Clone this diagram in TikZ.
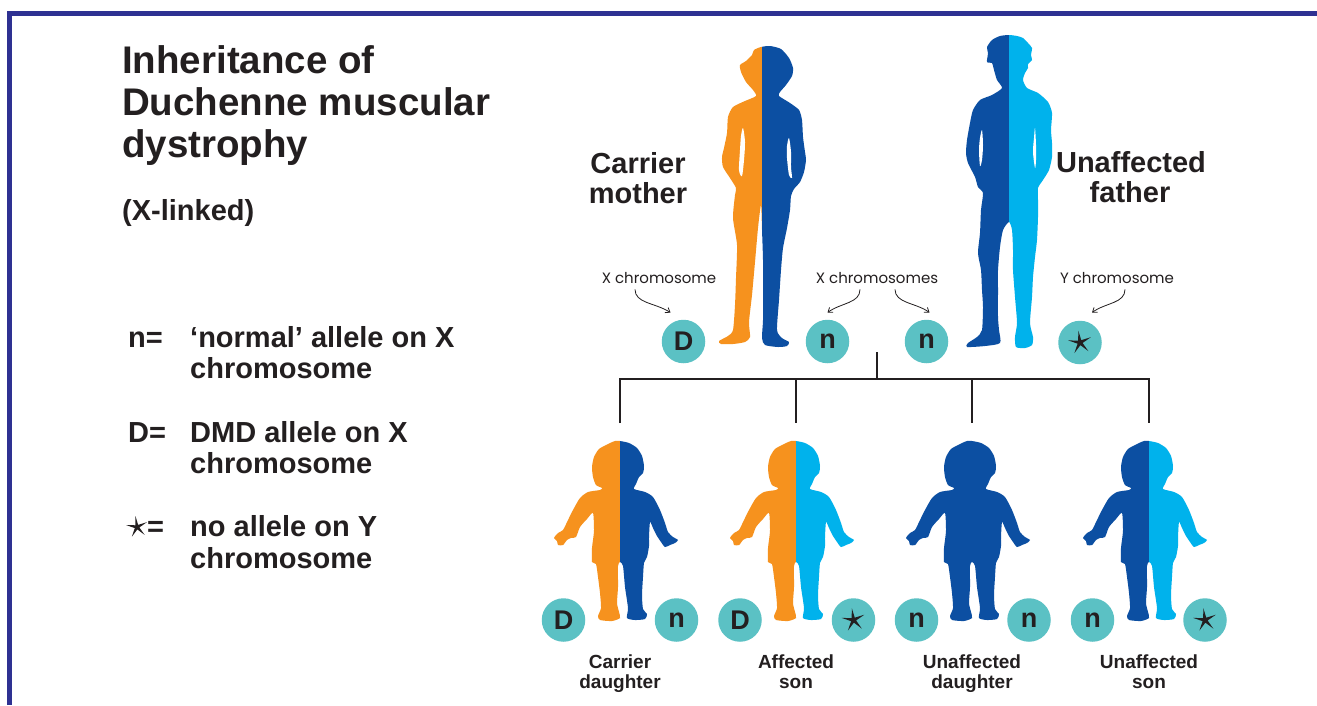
\documentclass[tikz,border=0pt]{standalone}
\usepackage{fontspec}
\setmainfont{Liberation Sans}
\newfontfamily\handfont{Poppins}
\usetikzlibrary{arrows.meta}
\definecolor{ink}{RGB}{35,31,32}
\definecolor{framec}{RGB}{46,49,146}
\definecolor{corange}{RGB}{246,146,30}
\definecolor{cdblue}{RGB}{12,79,162}
\definecolor{clblue}{RGB}{0,178,236}
\definecolor{cteal}{RGB}{91,193,196}

% outline of a toddler, x relative to the body's midline
\newcommand\kidoutline{plot[smooth cycle,tension=.4] coordinates {
 (0,441) (9,443) (17,448) (22,456) (24,466) (23,473) (19,477) (16,484) (14,489)
 (25,492) (33,497) (40,510) (45,523) (48,532) (53,537) (58,540) (55,543) (50,545) (45,547) (41,542) (37,536) (33,528) (30,522)
 (29,537) (29,546) (27,557) (24,563) (23,577) (22,595) (23,609) (27,614) (25,619) (15,620) (7,618) (8,608) (5,587) (3,566)
 (0,562)
 (-2,566) (-2,587) (-3,603) (-1,612) (0,618) (-8,621) (-20,620) (-22,616) (-19,608) (-20,593) (-22,577) (-24,564) (-28,562)
 (-28,548) (-27,540) (-26,530) (-27,513)
 (-33,519) (-40,527) (-44,537) (-49,538) (-53,540) (-57,545) (-62,545) (-63,541) (-66,538) (-62,533) (-57,530) (-52,520) (-47,510) (-40,498) (-32,492) (-20,490) (-18,488)
 (-24,485) (-27,477) (-28,467) (-26,457) (-21,449) (-12,444) (-5,441)}}

% standing woman
\newcommand\mumoutline{plot[smooth cycle,tension=.4] coordinates {
 (761,47) (770,46) (781,49) (789,58) (793,68) (792,76) (786,85) (780,92) (779,96)
 (790,103) (799,110) (802,120) (803,137) (805,152) (806,160) (804,172) (800,182) (794,189)
 (791,196) (790,210) (787,228) (783,248) (781,270) (779,300) (777,330)
 (782,338) (789,342) (787,346) (778,347) (765,345) (762,338)
 (763,320) (763,290) (763,260) (762,230) (761,205)
 (758,228) (755,262) (752,295) (749,322) (750,337)
 (745,342) (733,344) (721,344) (719,341) (728,336) (733,330)
 (735,305) (736,278) (737,245) (733,218) (735,195)
 (736,188) (730,178) (723,167) (722,157) (724,148) (727,133) (728,117) (733,107)
 (745,101) (756,96)
 (753,90) (746,82) (741,72) (740,65) (746,61) (752,55) (754,50)}}

% standing man
\newcommand\dadoutline{plot[smooth cycle,tension=.4] coordinates {
 (1009,35) (1017,36) (1023,38) (1028,43) (1032,48) (1031,55) (1032,60) (1028,64) (1028,68) (1025,73) (1023,80) (1027,88)
 (1038,93) (1048,102) (1052,113) (1051,130) (1052,143) (1052,157) (1049,170) (1043,180) (1038,188)
 (1038,200) (1038,217) (1037,240) (1035,257) (1033,277) (1032,297) (1030,323) (1033,337) (1032,345) (1025,348) (1016,347)
 (1015,337) (1017,323) (1015,297) (1013,270) (1013,250) (1012,230) (1009,222)
 (1003,230) (1000,247) (998,270) (998,290) (998,317) (999,330) (1000,343) (985,346) (967,347) (968,343) (977,337)
 (982,330) (983,307) (982,290) (981,270) (978,253) (980,233) (981,210) (983,193)
 (978,187) (975,177) (968,163) (966,153) (967,140) (970,123) (973,110) (980,100) (992,95) (1002,88)
 (997,80) (994,70) (992,63) (987,62) (988,53) (987,47) (992,40) (1000,36)}}

\tikzset{
  pics/kid/.style 2 args={code={
    \begin{scope}
      \clip (-80,430) rectangle (0,630);
      \fill[#1] \kidoutline;
    \end{scope}
    \begin{scope}
      \clip (0,430) rectangle (80,630);
      \fill[#2] \kidoutline;
    \end{scope}
  }},
  pics/starmark/.style={code={
    \fill[ink] (262:#1) -- (298:.22*#1) -- (334:#1) -- (10:.22*#1) -- (46:#1) -- (82:.22*#1)
      -- (118:#1) -- (154:.22*#1) -- (190:#1) -- (226:.22*#1) -- cycle;
  }},
}

\begin{document}
\begin{tikzpicture}[x=1pt,y=-1pt,
  txt/.style={inner sep=0pt, text=ink},
  title/.style={txt, font=\fontsize{38.5}{42}\selectfont\bfseries},
  body/.style={txt, font=\fontsize{29}{32}\selectfont\bfseries},
  kidlabel/.style={txt, font=\fontsize{19}{22}\selectfont\bfseries},
  hand/.style={txt, font=\handfont\fontsize{15}{18}\selectfont},
  allele/.style={circle, fill=cteal, minimum size=43.5pt, inner sep=0pt, text=ink,
                 font=\fontsize{27}{27}\selectfont\bfseries},
  tree/.style={draw=ink, line width=2.8pt},
  pointer/.style={draw=ink, line width=0.8pt, -{Straight Barb[length=4pt,width=6pt]}},
]
\useasboundingbox (0,0) rectangle (1317,705);
\fill[white] (0,0) rectangle (1317,705);

% frame
\draw[framec, line width=4.5pt] (9.5,705) |- (1317,13.5);

% title and key
\node[title, anchor=base west] (t1) at (122,73) {Inheritance of};
\node[title, anchor=base west] (t2) at (122,115) {Duchenne muscular};
\node[title, anchor=base west] (t3) at (122,157) {dystrophy};
\node[body, anchor=base west] (t4) at (122,220) {(X-linked)};

\node[body, anchor=base west] (k1) at (128,347) {n=};
\node[body, anchor=base west] (k1a) at (190,347) {‘normal’ allele on X};
\node[body, anchor=base west] (k1b) at (190,378) {chromosome};
\node[body, anchor=base west] (k2) at (128,442) {D=};
\node[body, anchor=base west] (k2a) at (190,442) {DMD allele on X};
\node[body, anchor=base west] (k2b) at (190,473) {chromosome};
\pic at (137,527) {starmark=11};
\node[body, anchor=base west] (k3) at (147,536) {=};
\node[body, anchor=base west] (k3a) at (190,536) {no allele on Y};
\node[body, anchor=base west] (k3b) at (190,568) {chromosome};

% parents
\begin{scope}
  \clip (700,30) rectangle (762,360);
  \fill[corange] \mumoutline;
\end{scope}
\begin{scope}
  \clip (762,30) rectangle (830,360);
  \fill[cdblue] \mumoutline;
\end{scope}
\fill[white] plot[smooth cycle,tension=.5] coordinates {(743,128) (745,142) (744,160) (742,176) (739,170) (740,150) (741,136)};
\fill[white] plot[smooth cycle,tension=.5] coordinates {(789,138) (791,152) (791,167) (792,178) (789,175) (787,158) (787,146)};

\begin{scope}
  \clip (940,20) rectangle (1009,360);
  \fill[cdblue] \dadoutline;
\end{scope}
\begin{scope}
  \clip (1009,20) rectangle (1080,360);
  \fill[clblue] \dadoutline;
\end{scope}
\fill[white] plot[smooth cycle,tension=.5] coordinates {(982,130) (983,145) (982,160) (980,166) (979,150) (980,138)};
\fill[white] plot[smooth cycle,tension=.5] coordinates {(1035,128) (1036,145) (1036,160) (1035,168) (1033,152) (1034,138)};

\node[body, anchor=base] (m1) at (638,173) {Carrier};
\node[body, anchor=base] (m2) at (638,203) {mother};
\node[body, anchor=base] (f1) at (1131,172) {Unaffected};
\node[body, anchor=base] (f2) at (1130,202) {father};

% parental alleles
\node[allele] (pD) at (683.5,341.5) {D};
\node[allele] (pn1) at (827.5,341.5) {n};
\node[allele] (pn2) at (926.5,341.5) {n};
\node[allele] (pY) at (1080,342.5) {};
\pic at (pY) {starmark=12};

\node[hand, anchor=base] (lx1) at (659,283) {X chromosome};
\node[hand, anchor=base] (lx2) at (877,283) {X chromosomes};
\node[hand, anchor=base] (ly) at (1117,283) {Y chromosome};

\draw[pointer] ([xshift=-24pt,yshift=-6pt]lx1.south) .. controls +(0,14) and +(-16,-10) .. ([xshift=-13pt,yshift=7pt]pD.north);
\draw[pointer] ([xshift=-17pt,yshift=-6pt]lx2.south) .. controls +(0,14) and +(14,-10) .. ([xshift=0pt,yshift=7pt]pn1.north);
\draw[pointer] ([xshift=18pt,yshift=-6pt]lx2.south) .. controls +(0,14) and +(-14,-10) .. ([xshift=3pt,yshift=7pt]pn2.north);
\draw[pointer] ([xshift=8pt,yshift=-6pt]ly.south) .. controls +(0,14) and +(14,-10) .. ([xshift=12pt,yshift=8pt]pY.north);

% family tree lines
\coordinate (drop) at (877,352);
\coordinate (bar) at (877,379);
\coordinate (c1) at (620,423);
\coordinate (c2) at (796,423);
\coordinate (c3) at (972,423);
\coordinate (c4) at (1149,423);
\draw[tree] (drop) -- (bar);
\draw[tree, line join=miter] (c1) |- (c4 |- bar) -- (c4);
\draw[tree] (c2 |- bar) -- (c2);
\draw[tree] (c3 |- bar) -- (c3);

% children
\pic at (620,0) {kid={corange}{cdblue}};
\pic at (796,0) {kid={corange}{clblue}};
\pic at (972,0) {kid={cdblue}{cdblue}};
\pic at (1149,0) {kid={cdblue}{clblue}};

\node[allele] (a1) at (563.5,620) {D};
\node[allele] (a2) at (676.5,620) {n};
\node[allele] (a3) at (740,620) {D};
\node[allele] (a4) at (853.5,620) {};
\node[allele] (a5) at (916.5,620) {n};
\node[allele] (a6) at (1029,620) {n};
\node[allele] (a7) at (1092.5,620) {n};
\node[allele] (a8) at (1205,620) {};
\pic at (a4) {starmark=12};
\pic at (a8) {starmark=12};

\node[kidlabel, anchor=base] (l1a) at (620,668) {Carrier};
\node[kidlabel, anchor=base] (l1b) at (620,688) {daughter};
\node[kidlabel, anchor=base] (l2a) at (796,668) {Affected};
\node[kidlabel, anchor=base] (l2b) at (796,688) {son};
\node[kidlabel, anchor=base] (l3a) at (972,668) {Unaffected};
\node[kidlabel, anchor=base] (l3b) at (972,688) {daughter};
\node[kidlabel, anchor=base] (l4a) at (1149,668) {Unaffected};
\node[kidlabel, anchor=base] (l4b) at (1149,688) {son};
\end{tikzpicture}
\end{document}
